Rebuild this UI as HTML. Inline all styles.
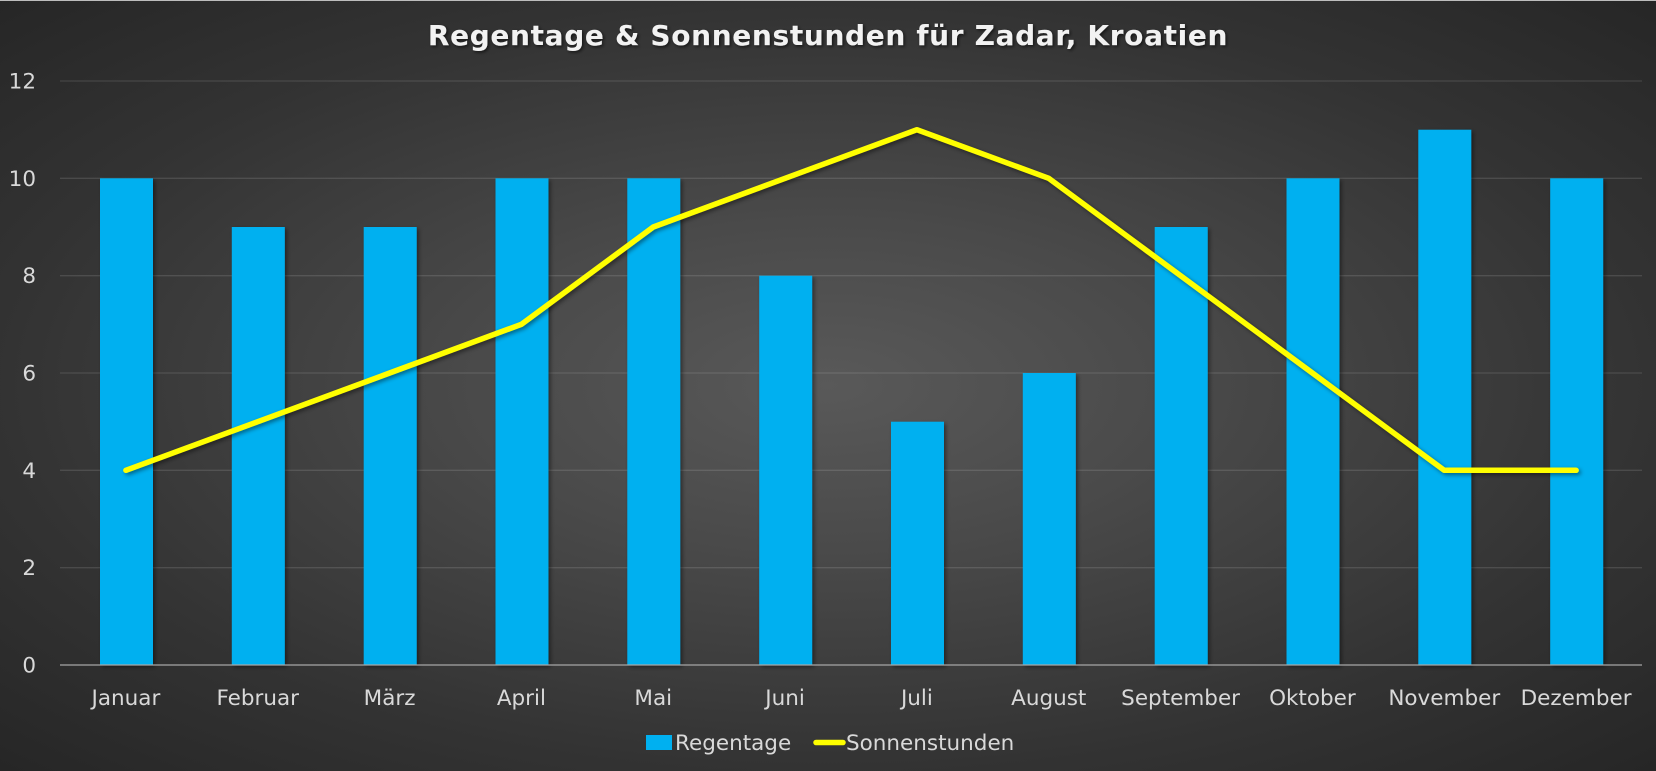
<!DOCTYPE html>
<html>
<head>
<meta charset="utf-8">
<style>
  html, body { margin: 0; padding: 0; }
  body { width: 1656px; height: 771px; overflow: hidden;
    background: radial-gradient(ellipse farthest-corner at 50% 50%, #595959 0%, #4a4a4a 30%, #333333 70%, #262626 100%); }
  svg { display: block; }
  .lbl { font-family: "DejaVu Sans", "Liberation Sans", sans-serif; font-size: 21.5px; fill: #d9d9d9; }
</style>
</head>
<body>
<svg width="1656" height="771" viewBox="0 0 1656 771" xmlns="http://www.w3.org/2000/svg">
  <defs>
    <filter id="sh" x="-20%" y="-20%" width="140%" height="140%">
      <feDropShadow dx="2" dy="2" stdDeviation="2" flood-color="#000" flood-opacity="0.45"/>
    </filter>
    <filter id="tsh" x="-5%" y="-30%" width="110%" height="160%">
      <feDropShadow dx="1.5" dy="1.5" stdDeviation="1.5" flood-color="#000" flood-opacity="0.6"/>
    </filter>
  </defs>
  <line x1="0" y1="0.5" x2="1656" y2="0.5" stroke="#bdbdbd" stroke-width="1"/>

  <!-- title -->
  <text x="828" y="45" text-anchor="middle" filter="url(#tsh)" style="font-family:'DejaVu Sans','Liberation Sans',sans-serif;font-weight:bold;font-size:28px;letter-spacing:0.65px;fill:#f2f2f2;">Regentage &amp; Sonnenstunden für Zadar, Kroatien</text>

  <!-- gridlines -->
  <g stroke="#ffffff" stroke-opacity="0.12" stroke-width="1.3">
    <line x1="60" y1="81" x2="1642" y2="81"/>
    <line x1="60" y1="178.3" x2="1642" y2="178.3"/>
    <line x1="60" y1="275.7" x2="1642" y2="275.7"/>
    <line x1="60" y1="373" x2="1642" y2="373"/>
    <line x1="60" y1="470.3" x2="1642" y2="470.3"/>
    <line x1="60" y1="567.7" x2="1642" y2="567.7"/>
  </g>

  <!-- y labels -->
  <g class="lbl" text-anchor="end">
    <text x="36" y="88.5">12</text>
    <text x="36" y="185.8">10</text>
    <text x="36" y="283.2">8</text>
    <text x="36" y="380.5">6</text>
    <text x="36" y="477.8">4</text>
    <text x="36" y="575.2">2</text>
    <text x="36" y="672.5">0</text>
  </g>

  <!-- bars -->
  <g fill="#00b0f0" filter="url(#sh)">
    <rect x="100" y="178.3" width="53" height="486.7"/>
    <rect x="231.8" y="227" width="53" height="438"/>
    <rect x="363.7" y="227" width="53" height="438"/>
    <rect x="495.5" y="178.3" width="53" height="486.7"/>
    <rect x="627.3" y="178.3" width="53" height="486.7"/>
    <rect x="759.2" y="275.7" width="53" height="389.3"/>
    <rect x="891" y="421.7" width="53" height="243.3"/>
    <rect x="1022.8" y="373" width="53" height="292"/>
    <rect x="1154.7" y="227" width="53" height="438"/>
    <rect x="1286.5" y="178.3" width="53" height="486.7"/>
    <rect x="1418.3" y="129.7" width="53" height="535.3"/>
    <rect x="1550.2" y="178.3" width="53" height="486.7"/>
  </g>

  <!-- axis -->
  <line x1="60" y1="665" x2="1642" y2="665" stroke="#a6a6a6" stroke-width="1.3"/>

  <!-- line series -->
  <polyline filter="url(#sh)" fill="none" stroke="#ffff00" stroke-width="5.5" stroke-linejoin="round" stroke-linecap="round"
    points="125.9,470.3 257.75,421.7 389.6,373 521.4,324.3 653.25,227 785.1,178.3 916.9,129.7 1048.75,178.3 1180.6,275.7 1312.4,373 1444.25,470.3 1576.1,470.3"/>

  <!-- x labels -->
  <g class="lbl" text-anchor="middle">
    <text x="125.9" y="705">Januar</text>
    <text x="257.75" y="705">Februar</text>
    <text x="389.6" y="705">März</text>
    <text x="521.4" y="705">April</text>
    <text x="653.25" y="705">Mai</text>
    <text x="785.1" y="705">Juni</text>
    <text x="916.9" y="705">Juli</text>
    <text x="1048.75" y="705">August</text>
    <text x="1180.6" y="705">September</text>
    <text x="1312.4" y="705">Oktober</text>
    <text x="1444.25" y="705">November</text>
    <text x="1576.1" y="705">Dezember</text>
  </g>

  <!-- legend -->
  <rect x="646" y="735" width="26" height="15" fill="#00b0f0"/>
  <text class="lbl" x="675" y="750">Regentage</text>
  <line x1="816" y1="742.5" x2="843" y2="742.5" stroke="#ffff00" stroke-width="5.5" stroke-linecap="round"/>
  <text class="lbl" x="846" y="750">Sonnenstunden</text>
</svg>
</body>
</html>
